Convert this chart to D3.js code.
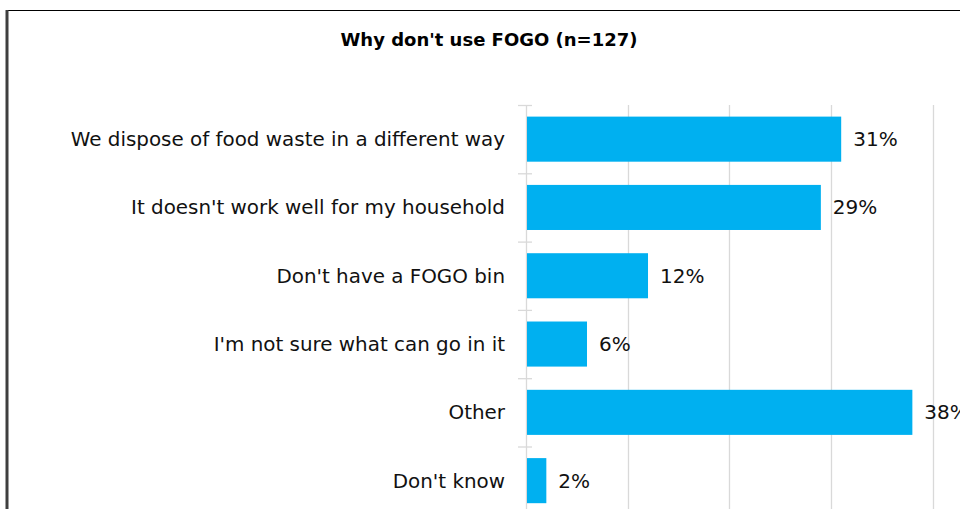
<!DOCTYPE html>
<html>
<head>
<meta charset="utf-8">
<script src="https://cdn.jsdelivr.net/npm/d3@7"></script>
<style>
  html, body { margin: 0; padding: 0; background: #fff; }
  svg { display: block; }
</style>
</head>
<body>
<svg id="chart" width="960" height="509"></svg>
<script>
// Reasons given for not using the FOGO bin
const categories = [
  "We dispose of food waste in a different way",
  "It doesn't work well for my household",
  "Don't have a FOGO bin",
  "I'm not sure what can go in it",
  "Other",
  "Don't know"
];
const values = [31, 29, 12, 6, 38, 2];
const gridTicks = [0, 10, 20, 30, 40];
const title = "Why don't use FOGO (n=127)";

const font = "'DejaVu Sans', sans-serif";
const svg = d3.select("#chart");

// Frame of the chart area
svg.append("line").attr("x1", 7).attr("x2", 960).attr("y1", 10.5).attr("y2", 10.5)
  .attr("stroke", "#000").attr("stroke-width", 1);
svg.append("line").attr("x1", 7).attr("x2", 7).attr("y1", 10).attr("y2", 509)
  .attr("stroke", "#3f3f3f").attr("stroke-width", 3);

const margin = { left: 526, top: 105 };
const x = d3.scaleLinear().domain([0, 40]).range([margin.left, 932.7]);
const y = d3.scaleBand().domain(categories).range([margin.top, margin.top + 68.3 * categories.length])
  .paddingInner(0.34).paddingOuter(0.17);

// Vertical gridlines
svg.append("g").selectAll("line").data(gridTicks.slice(1)).join("line")
  .attr("x1", d => Math.round(x(d)) + 0.5).attr("x2", d => Math.round(x(d)) + 0.5)
  .attr("y1", margin.top).attr("y2", 509)
  .attr("stroke", "#d9d9d9").attr("stroke-width", 1.3);

// Category axis with tick marks between bands
const yAxisG = svg.append("g").attr("transform", `translate(${margin.left},0)`);
yAxisG.append("line").attr("x1", 0.5).attr("x2", 0.5).attr("y1", margin.top).attr("y2", 509)
  .attr("stroke", "#d9d9d9").attr("stroke-width", 1.3);
const bounds = d3.range(categories.length + 1).map(i => margin.top + 68.3 * i);
yAxisG.selectAll("line.tick").data(bounds).join("line").attr("class", "tick")
  .attr("x1", -8).attr("x2", 6)
  .attr("y1", d => d + 0.5).attr("y2", d => d + 0.5)
  .attr("stroke", "#d9d9d9").attr("stroke-width", 1.3);

// Category labels
svg.append("g").selectAll("text").data(categories).join("text")
  .attr("x", 505)
  .attr("y", d => y(d) + y.bandwidth() / 2)
  .attr("dy", "0.35em")
  .attr("text-anchor", "end")
  .attr("font-family", font).attr("font-size", 19.9).attr("fill", "#111")
  .text(d => d);

// Bars
svg.append("g").selectAll("rect").data(values).join("rect")
  .attr("x", x(0) + 1)
  .attr("y", (d, i) => y(categories[i]))
  .attr("width", d => x(d) - x(0) - 1)
  .attr("height", y.bandwidth())
  .attr("fill", "#00b0f0");

// Value labels
svg.append("g").selectAll("text").data(values).join("text")
  .attr("x", d => x(d) + 12)
  .attr("y", (d, i) => y(categories[i]) + y.bandwidth() / 2)
  .attr("dy", "0.35em")
  .attr("font-family", font).attr("font-size", 20).attr("fill", "#111")
  .text(d => d + "%");

// Title
svg.append("text").attr("x", 489).attr("y", 46)
  .attr("text-anchor", "middle")
  .attr("font-family", font).attr("font-weight", "bold").attr("font-size", 18).attr("fill", "#000")
  .text(title);
</script>
</body>
</html>
